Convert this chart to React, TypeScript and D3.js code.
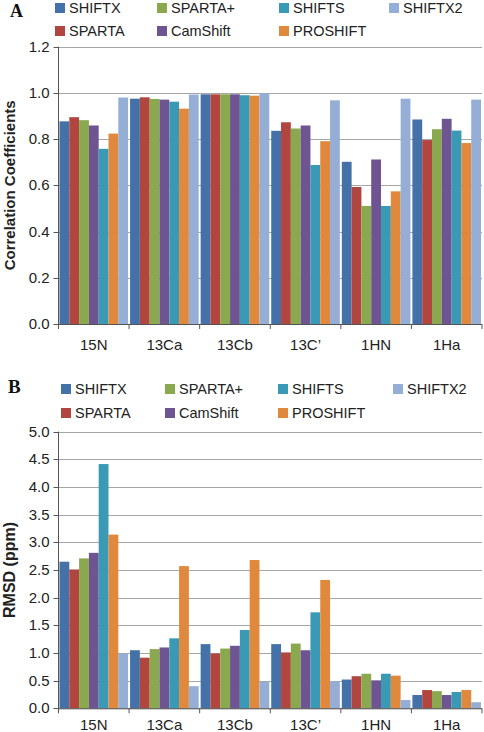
import React from "react";
import * as d3 from "d3";

const categories = ["15N", "13Ca", "13Cb", "13C’", "1HN", "1Ha"];
const seriesNames = ["SHIFTX", "SPARTA", "SPARTA+", "CamShift", "SHIFTS", "PROSHIFT", "SHIFTX2"];
const seriesColors = ["#4471A8", "#B0463F", "#8AA94E", "#6E5592", "#3A99B5", "#E0883C", "#95AED6"];

// Panel A: correlation coefficients (rows = series in bar order, cols = categories)
const corrSHIFTX = [0.877, 0.975, 0.994, 0.836, 0.702, 0.885];
const corrSPARTA = [0.895, 0.981, 0.994, 0.873, 0.593, 0.796];
const corrSPARTAplus = [0.882, 0.974, 0.994, 0.846, 0.511, 0.843];
const corrCamShift = [0.859, 0.971, 0.994, 0.859, 0.712, 0.888];
const corrSHIFTS = [0.758, 0.962, 0.99, 0.688, 0.511, 0.837];
const corrPROSHIFT = [0.824, 0.932, 0.988, 0.791, 0.574, 0.783];
const corrSHIFTX2 = [0.98, 0.993, 0.998, 0.968, 0.975, 0.971];

// Panel B: RMSD (ppm)
const rmsdSHIFTX = [2.65, 1.05, 1.16, 1.16, 0.52, 0.24];
const rmsdSPARTA = [2.51, 0.915, 0.99, 1.01, 0.58, 0.33];
const rmsdSPARTAplus = [2.71, 1.07, 1.08, 1.17, 0.625, 0.31];
const rmsdCamShift = [2.81, 1.1, 1.13, 1.05, 0.505, 0.24];
const rmsdSHIFTS = [4.415, 1.265, 1.415, 1.735, 0.625, 0.295];
const rmsdPROSHIFT = [3.14, 2.57, 2.68, 2.32, 0.59, 0.33];
const rmsdSHIFTX2 = [0.99, 0.4, 0.48, 0.49, 0.15, 0.11];

const corrTicks = [0, 0.2, 0.4, 0.6, 0.8, 1.0, 1.2];
const rmsdTicks = [0, 0.5, 1.0, 1.5, 2.0, 2.5, 3.0, 3.5, 4.0, 4.5, 5.0];

// legend: column-major order (SHIFTX/SPARTA, SPARTA+/CamShift, SHIFTS/PROSHIFT, SHIFTX2)
const legendOrder = [
  ["SHIFTX", "SPARTA"],
  ["SPARTA+", "CamShift"],
  ["SHIFTS", "PROSHIFT"],
  ["SHIFTX2"],
];

const FONT = "'Liberation Sans', Arial, sans-serif";

type PanelProps = {
  letter: string;
  letterX: number;
  letterY: number;
  letterSize: number;
  legendXs: number[];
  legendYs: number[];
  yTitle: string;
  yTitleSize: number;
  top: number;
  bottom: number;
  ticks: number[];
  domainMax: number;
  data: number[][];
  xLabelOffset: number;
  tickFmt: (v: number) => string;
};

const LEFT = 58.5;
const RIGHT = 482;

function Panel(p: PanelProps) {
  const y = d3.scaleLinear().domain([0, p.domainMax]).range([p.bottom, p.top]);
  const x0 = d3.scaleBand<string>().domain(categories).range([LEFT, RIGHT]).paddingInner(0).paddingOuter(0);
  const x1 = d3
    .scaleBand<string>()
    .domain(seriesNames)
    .range([0, x0.bandwidth()])
    .paddingOuter(0.1)
    .paddingInner(0);
  const colorOf = d3.scaleOrdinal<string, string>().domain(seriesNames).range(seriesColors);
  const yMid = (p.top + p.bottom) / 2;
  return (
    <g>
      <text x={p.letterX} y={p.letterY} fontFamily="'Liberation Serif', 'Times New Roman', serif" fontWeight="bold" fontSize={p.letterSize} fill="#111">
        {p.letter}
      </text>
      {legendOrder.map((col, ci) =>
        col.map((name, ri) => (
          <g key={name} transform={`translate(${p.legendXs[ci]},${p.legendYs[ri]})`}>
            <rect x={0} y={-5} width={10} height={10} fill={colorOf(name)} />
            <text x={14} y={5} fontFamily={FONT} fontSize={14.5} fill="#222">
              {name}
            </text>
          </g>
        ))
      )}
      {/* gridlines */}
      {p.ticks.map((t) => (
        <line key={"g" + t} x1={LEFT} x2={RIGHT} y1={Math.round(y(t)) + 0.5} y2={Math.round(y(t)) + 0.5} stroke="#A6A6A6" strokeWidth={1} />
      ))}
      {/* bars */}
      {categories.map((c, ci) => (
        <g key={c} transform={`translate(${x0(c)},0)`}>
          {seriesNames.map((s, si) => {
            const v = p.data[si][ci];
            return (
              <rect key={s} x={x1(s)} y={y(v)} width={x1.bandwidth()} height={p.bottom - y(v)} fill={colorOf(s)} />
            );
          })}
        </g>
      ))}
      {/* y axis */}
      <line x1={LEFT} x2={LEFT} y1={p.top} y2={p.bottom} stroke="#555" strokeWidth={1} />
      {p.ticks.map((t) => (
        <g key={"t" + t}>
          <line x1={LEFT - 5} x2={LEFT} y1={Math.round(y(t)) + 0.5} y2={Math.round(y(t)) + 0.5} stroke="#555" />
          <text x={LEFT - 9} y={y(t) + 5} textAnchor="end" fontFamily={FONT} fontSize={15} fill="#222">
            {p.tickFmt(t)}
          </text>
        </g>
      ))}
      {/* x axis */}
      <line x1={LEFT} x2={RIGHT} y1={p.bottom + 0.5} y2={p.bottom + 0.5} stroke="#555" strokeWidth={1} />
      {categories.map((c, ci) => (
        <g key={"x" + c}>
          <line x1={(x0(c) as number) + x0.bandwidth()} x2={(x0(c) as number) + x0.bandwidth()} y1={p.bottom} y2={p.bottom + 5} stroke="#555" />
          {ci === 0 && <line x1={LEFT} x2={LEFT} y1={p.bottom} y2={p.bottom + 5} stroke="#555" />}
          <text x={(x0(c) as number) + x0.bandwidth() / 2} y={p.bottom + p.xLabelOffset} textAnchor="middle" fontFamily={FONT} fontSize={15} fill="#222">
            {c}
          </text>
        </g>
      ))}
      <text
        transform={`translate(15,${yMid}) rotate(-90)`}
        textAnchor="middle"
        fontFamily={FONT}
        fontWeight="bold"
        fontSize={p.yTitleSize}
        fill="#222"
      >
        {p.yTitle}
      </text>
    </g>
  );
}

export default function App() {
  const corr = [corrSHIFTX, corrSPARTA, corrSPARTAplus, corrCamShift, corrSHIFTS, corrPROSHIFT, corrSHIFTX2];
  const rmsd = [rmsdSHIFTX, rmsdSPARTA, rmsdSPARTAplus, rmsdCamShift, rmsdSHIFTS, rmsdPROSHIFT, rmsdSHIFTX2];
  return (
    <svg width={484} height={732} style={{ position: "absolute", left: 0, top: 0, background: "#fff" }}>
      <rect width={484} height={732} fill="#fff" />
      <Panel
        letter="A"
        letterX={10}
        letterY={17}
        letterSize={18}
        legendXs={[55, 157, 279, 389]}
        legendYs={[8, 31]}
        yTitle="Correlation Coefficients"
        yTitleSize={15}
        top={46.7}
        bottom={324}
        ticks={corrTicks}
        domainMax={1.2}
        data={corr}
        xLabelOffset={26}
        tickFmt={(v) => d3.format(".1f")(v)}
      />
      <Panel
        letter="B"
        letterX={8}
        letterY={393}
        letterSize={19}
        legendXs={[61, 165, 278, 393]}
        legendYs={[389, 413]}
        yTitle="RMSD (ppm)"
        yTitleSize={16}
        top={431.7}
        bottom={708.3}
        ticks={rmsdTicks}
        domainMax={5.0}
        data={rmsd}
        xLabelOffset={21.5}
        tickFmt={(v) => d3.format(".1f")(v)}
      />
    </svg>
  );
}
